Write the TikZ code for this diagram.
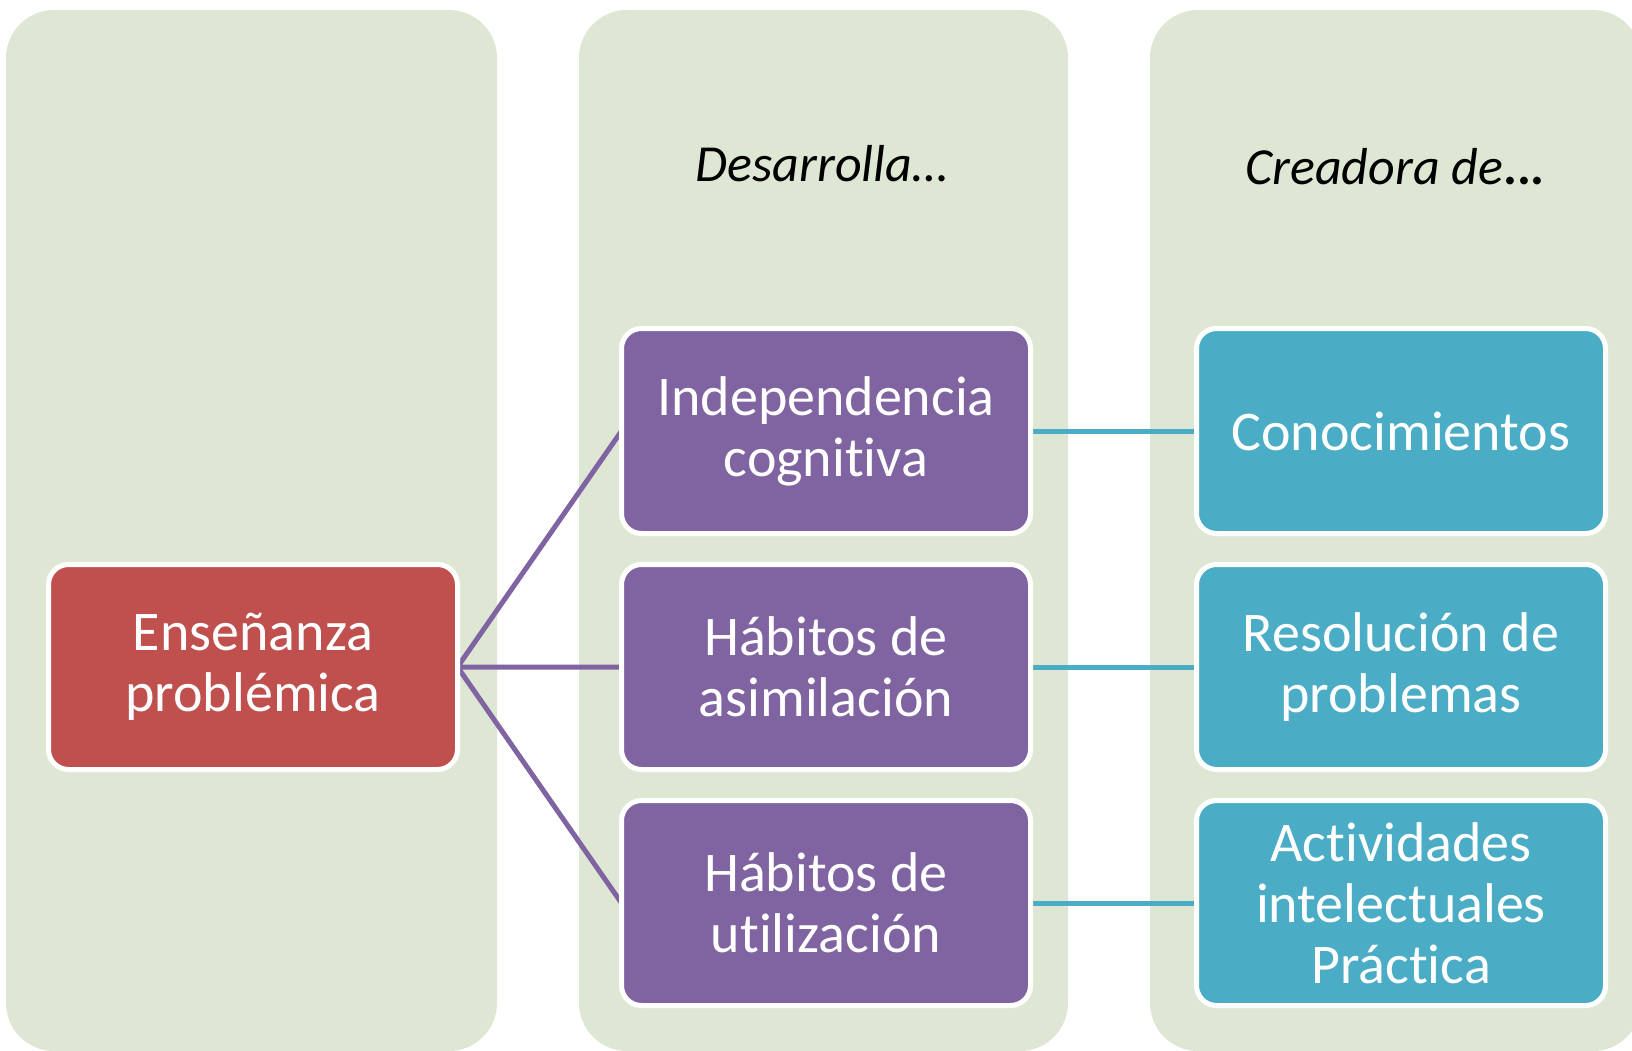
\documentclass[tikz,border=0pt]{standalone}
\usepackage{fontspec}
\setmainfont{Carlito}[Ligatures=NoCommon]
\usetikzlibrary{positioning, backgrounds}

\definecolor{colgreen}{RGB}{222,231,211}
\definecolor{probred}{RGB}{192,80,77}
\definecolor{devpurple}{RGB}{128,100,162}
\definecolor{creacyan}{RGB}{75,172,198}

\pgfdeclarelayer{columns}
\pgfsetlayers{columns,background,main}

\begin{document}
\begin{tikzpicture}[x=1pt, y=-1pt,
  column/.style={fill=colgreen, rounded corners=48pt},
  box/.style={rectangle, rounded corners=20pt, draw=white, line width=5pt,
    minimum width=409pt, minimum height=205pt, outer sep=0pt,
    text=white, align=center, font=\fontsize{56}{61}\selectfont},
  header/.style={font=\fontsize{52}{60}\selectfont\itshape},
  link/.style={line width=5pt}]

  \useasboundingbox (0,0) rectangle (1632,1051);

  % Three background columns
  \begin{pgfonlayer}{columns}
    \fill [column] (6,10) rectangle (497,1051);
    \fill [column] (579,10) rectangle (1068,1051);
    \fill [column] (1150,10) rectangle (1641,1051);
  \end{pgfonlayer}

  % Column headers
  \node [header] (des) at (822,164) {Desarrolla…};
  \node [header] (cre) at (1395,167) {Creadora de{\upshape\bfseries...}};

  % What it develops
  \node [box, fill=devpurple] (ind) at (826,431) {Independencia\\cognitiva};
  \node [box, fill=devpurple, below=31pt of ind] (asi) {Hábitos de\\asimilación};
  \node [box, fill=devpurple, below=31pt of asi] (uti) {Hábitos de\\utilización};

  % Root, level with the middle box
  \node [box, fill=probred, left=164pt of asi] (ens) {Enseñanza\\problémica};

  % What it creates
  \node [box, fill=creacyan, right=166pt of ind] (con) {Conocimientos};
  \node [box, fill=creacyan, right=166pt of asi] (res) {Resolución de\\problemas};
  \node [box, fill=creacyan, right=166pt of uti] (act)
    {Actividades\\intelectuales\\Práctica};

  % Connections
  \begin{pgfonlayer}{background}
    \draw [link, devpurple]
      (ens.east) -- (ind.west)
      (ens.east) -- (asi.west)
      (ens.east) -- (uti.west);
    \draw [link, creacyan]
      (ind.east) -- (con.west)
      (asi.east) -- (res.west)
      (uti.east) -- (act.west);
  \end{pgfonlayer}
\end{tikzpicture}
\end{document}
